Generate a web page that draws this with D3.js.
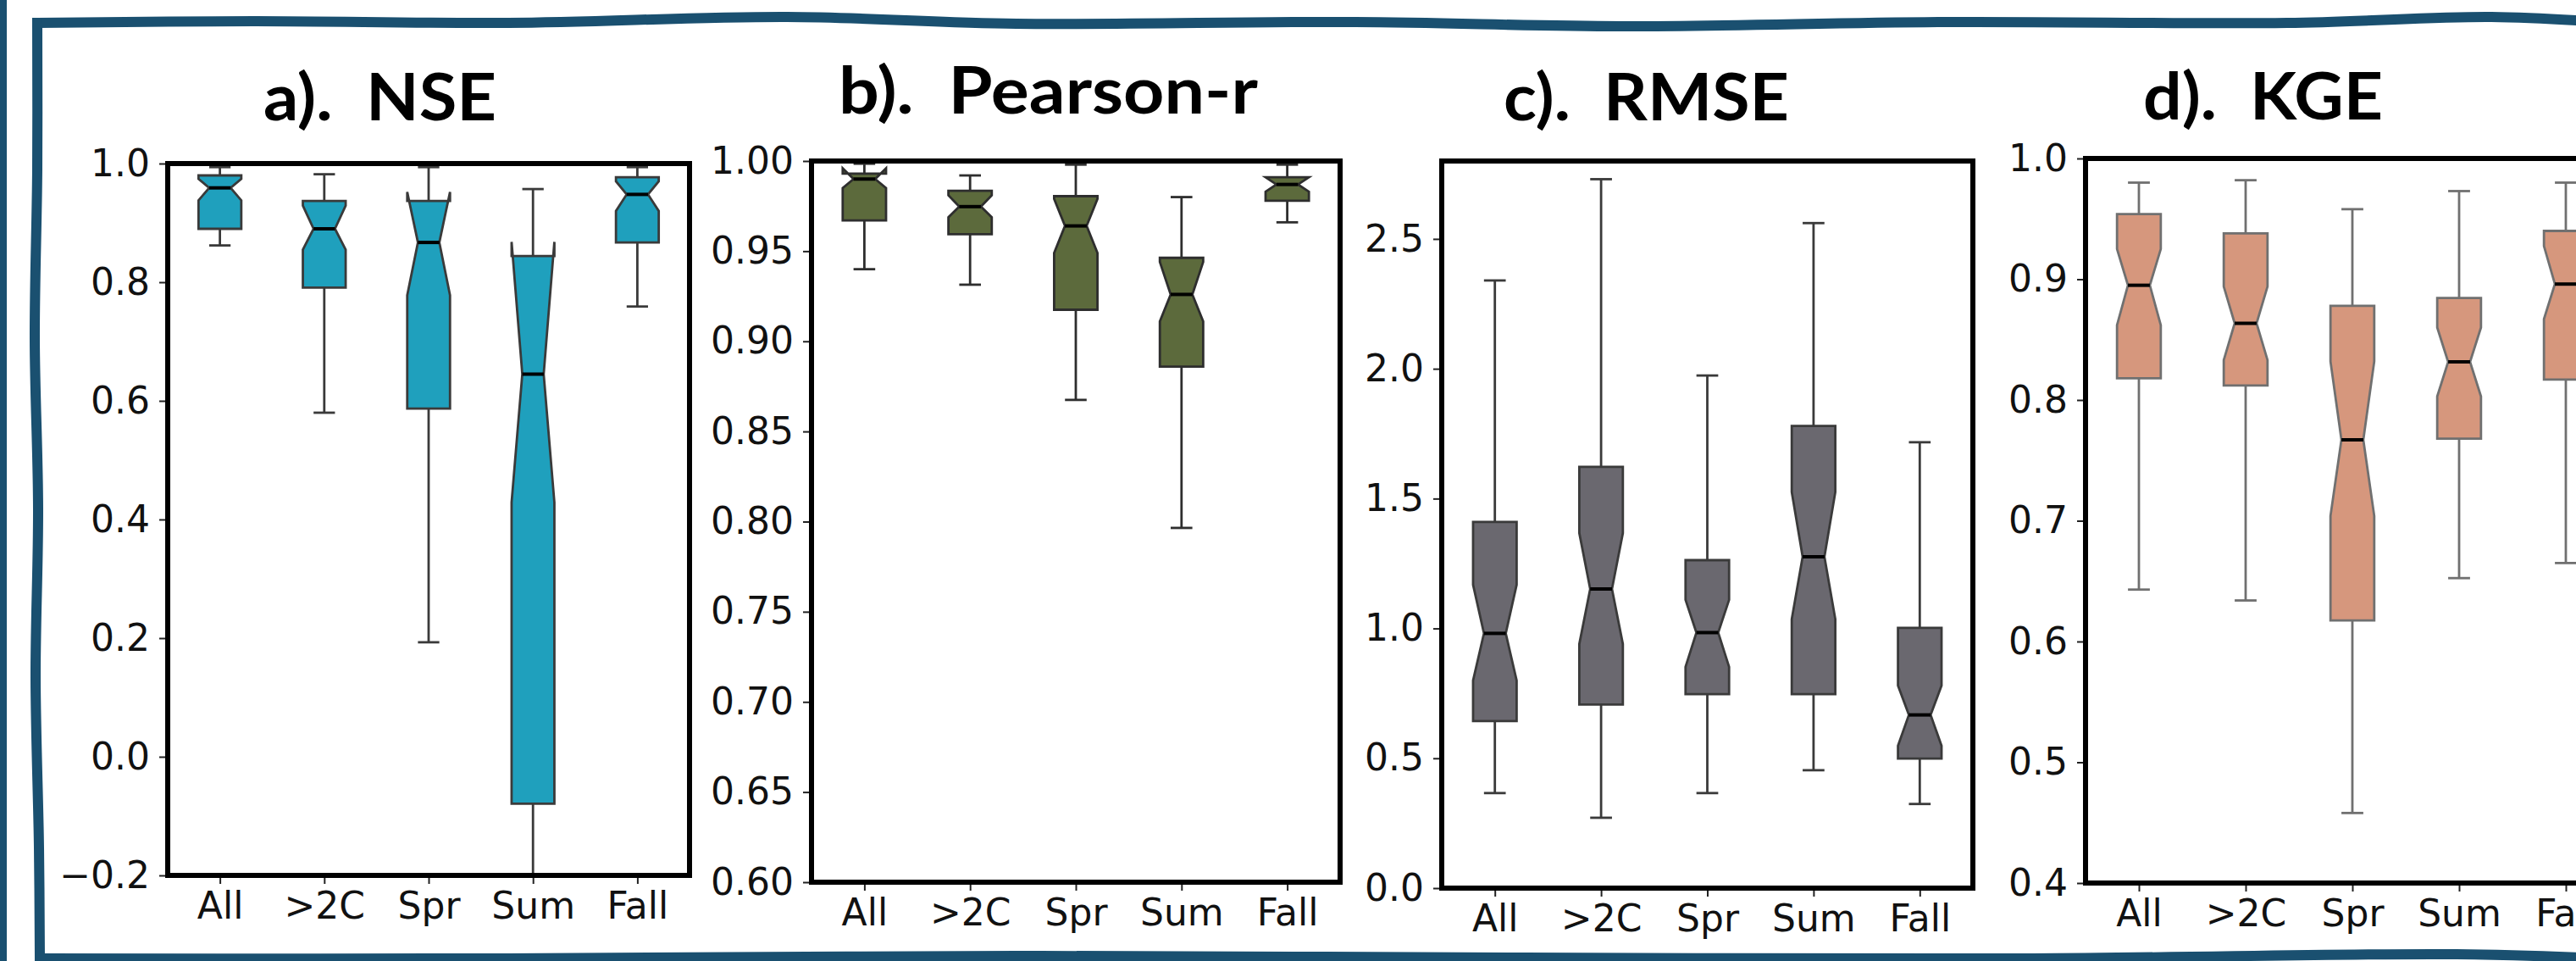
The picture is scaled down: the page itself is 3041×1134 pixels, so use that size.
<!DOCTYPE html>
<html>
<head>
<meta charset="utf-8">
<script src="https://cdn.jsdelivr.net/npm/d3@7"></script>
<style>
  html, body { margin: 0; padding: 0; background: #fff; }
  svg { display: block; }
  .tick text { font-family: "DejaVu Sans", sans-serif; font-size: 44px; fill: #111; }
  .tick line { stroke: #222; stroke-width: 2; }
  .title { font-family: Lato, "Open Sans", sans-serif; font-weight: 700; font-size: 76px; fill: #000; white-space: pre; }
</style>
</head>
<body>
<div id="chart"></div>
<script>
// categories on every x axis
const categories = ["All", ">2C", "Spr", "Sum", "Fall"];

// a) NSE
const nseWhiskerHi = [0.994, 0.982, 0.994, 0.957, 0.994];
const nseQ3        = [0.980, 0.937, 0.937, 0.844, 0.977];
const nseNotchHi   = [0.974, 0.929, 0.952, 0.868, 0.970];
const nseMedian    = [0.959, 0.890, 0.867, 0.645, 0.948];
const nseNotchLo   = [0.938, 0.855, 0.778, 0.429, 0.920];
const nseQ1        = [0.890, 0.791, 0.587, -0.079, 0.867];
const nseWhiskerLo = [0.862, 0.580, 0.193, -0.320, 0.759];

// b) Pearson-r
const rWhiskerHi = [0.9985, 0.992, 0.998, 0.980, 0.998];
const rQ3        = [0.993, 0.9835, 0.9805, 0.9463, 0.991];
const rNotchHi   = [0.996, 0.981, 0.979, 0.944, 0.991];
const rMedian    = [0.990, 0.9747, 0.964, 0.926, 0.987];
const rNotchLo   = [0.985, 0.9688, 0.949, 0.911, 0.983];
const rQ1        = [0.967, 0.9594, 0.9175, 0.886, 0.978];
const rWhiskerLo = [0.940, 0.9314, 0.8675, 0.7965, 0.966];

// c) RMSE
const rmseWhiskerHi = [2.340, 2.730, 1.974, 2.561, 1.717];
const rmseQ3        = [1.410, 1.622, 1.263, 1.780, 1.002];
const rmseNotchHi   = [1.168, 1.367, 1.110, 1.525, 0.780];
const rmseMedian    = [0.981, 1.152, 0.984, 1.276, 0.667];
const rmseNotchLo   = [0.800, 0.940, 0.852, 1.036, 0.548];
const rmseQ1        = [0.643, 0.707, 0.747, 0.747, 0.499];
const rmseWhiskerLo = [0.366, 0.271, 0.366, 0.454, 0.324];

// d) KGE
const kgeWhiskerHi = [0.980, 0.982, 0.958, 0.973, 0.980];
const kgeQ3        = [0.954, 0.938, 0.878, 0.8845, 0.940];
const kgeNotchHi   = [0.925, 0.894, 0.832, 0.860, 0.9275];
const kgeMedian    = [0.895, 0.8635, 0.767, 0.8316, 0.896];
const kgeNotchLo   = [0.862, 0.833, 0.704, 0.803, 0.867];
const kgeQ1        = [0.818, 0.812, 0.6175, 0.768, 0.817];
const kgeWhiskerLo = [0.643, 0.634, 0.458, 0.6525, 0.665];

// y ticks
const nseTicks  = [-0.2, 0.0, 0.2, 0.4, 0.6, 0.8, 1.0];
const rTicks    = [0.60, 0.65, 0.70, 0.75, 0.80, 0.85, 0.90, 0.95, 1.00];
const rmseTicks = [0.0, 0.5, 1.0, 1.5, 2.0, 2.5];
const kgeTicks  = [0.4, 0.5, 0.6, 0.7, 0.8, 0.9, 1.0];

const titles = ["a).  NSE", "b).  Pearson-r", "c).  RMSE", "d).  KGE"];

function rows(lo, q1, nlo, med, nhi, q3, hi) {
  return categories.map((c, i) => ({
    cat: c, lo: lo[i], q1: q1[i], nlo: nlo[i], med: med[i], nhi: nhi[i], q3: q3[i], hi: hi[i]
  }));
}

const panels = [
  { title: titles[0], data: rows(nseWhiskerLo, nseQ1, nseNotchLo, nseMedian, nseNotchHi, nseQ3, nseWhiskerHi),
    domain: [-0.2, 1.0], ticks: nseTicks, fmt: ".1f", fill: "#1fa0bd", edge: "#3a3a3a",
    box: [198, 814, 193, 1033], tx: 311, ty: 142, tw: 275 },
  { title: titles[1], data: rows(rWhiskerLo, rQ1, rNotchLo, rMedian, rNotchHi, rQ3, rWhiskerHi),
    domain: [0.60, 1.00], ticks: rTicks, fmt: ".2f", fill: "#5c6a3c", edge: "#2e2e2e",
    box: [958, 1582, 190, 1041], tx: 990, ty: 134, tw: 495 },
  { title: titles[2], data: rows(rmseWhiskerLo, rmseQ1, rmseNotchLo, rmseMedian, rmseNotchHi, rmseQ3, rmseWhiskerHi),
    domain: [0.0, 2.8], ticks: rmseTicks, fmt: ".1f", fill: "#6a686f", edge: "#3a3a3a",
    box: [1702, 2329, 190, 1048], tx: 1775, ty: 142, tw: 337 },
  { title: titles[3], data: rows(kgeWhiskerLo, kgeQ1, kgeNotchLo, kgeMedian, kgeNotchHi, kgeQ3, kgeWhiskerHi),
    domain: [0.4, 1.0], ticks: kgeTicks, fmt: ".1f", fill: "#d6977d", edge: "#707070",
    box: [2462, 3092, 187, 1042], tx: 2530, ty: 141, tw: 283 }
];

const W = 3041, H = 1134;
const frameColor = "#1a5070";

const svg = d3.select("#chart").append("svg")
    .attr("width", W)
    .attr("height", H);

svg.append("rect").attr("width", W).attr("height", H).attr("fill", "#fff");

// frame around the figure (hand drawn look)
svg.append("rect")
    .attr("x", 0).attr("y", 0).attr("width", 8).attr("height", H)
    .attr("fill", frameColor);

const frameSides = [
  // top
  [[44, 27], [300, 25], [600, 27], [929, 20], [1200, 28], [1600, 26], [1913, 31], [2300, 26], [2700, 27], [2941, 20], [3070, 26]],
  // left
  [[44, 27], [44, 200], [41, 400], [45, 600], [42, 800], [46, 1000], [47, 1131]],
  // bottom
  [[47, 1131], [600, 1131], [1200, 1128], [1800, 1130], [2400, 1131], [2900, 1126], [3070, 1131]]
];
svg.selectAll("path.frame").data(frameSides).enter().append("path")
    .attr("class", "frame")
    .attr("d", d3.line().curve(d3.curveCatmullRom))
    .attr("fill", "none")
    .attr("stroke", frameColor)
    .attr("stroke-width", 12)
    .attr("stroke-linecap", "square");

panels.forEach((p, pi) => {
  const [left, right, top, bottom] = p.box;
  const x = d3.scalePoint().domain(categories).range([left, right]).padding(0.5);
  const y = d3.scaleLinear().domain(p.domain).range([bottom, top]);
  const hw = x.step() * 0.41 / 2;

  const g = svg.append("g");

  g.append("clipPath").attr("id", "clip" + pi)
    .append("rect").attr("x", left).attr("y", top)
    .attr("width", right - left).attr("height", bottom - top);

  const plot = g.append("g").attr("clip-path", `url(#clip${pi})`);

  const box = plot.selectAll("g.box").data(p.data).enter().append("g").attr("class", "box");

  // whiskers
  box.append("line")
      .attr("x1", d => x(d.cat)).attr("x2", d => x(d.cat))
      .attr("y1", d => y(d.q1)).attr("y2", d => y(d.lo))
      .attr("stroke", p.edge).attr("stroke-width", 2.8);
  box.append("line")
      .attr("x1", d => x(d.cat)).attr("x2", d => x(d.cat))
      .attr("y1", d => y(d.q3)).attr("y2", d => y(d.hi))
      .attr("stroke", p.edge).attr("stroke-width", 2.8);
  // caps
  ["lo", "hi"].forEach(k => {
    box.append("line")
        .attr("x1", d => x(d.cat) - hw / 2).attr("x2", d => x(d.cat) + hw / 2)
        .attr("y1", d => y(d[k])).attr("y2", d => y(d[k]))
        .attr("stroke", p.edge).attr("stroke-width", 2.8);
  });

  // notched box
  box.append("path")
      .attr("d", d => {
        const c = x(d.cat);
        return d3.line()([
          [c - hw, y(d.q1)], [c - hw, y(d.nlo)], [c - hw / 2, y(d.med)], [c - hw, y(d.nhi)], [c - hw, y(d.q3)],
          [c + hw, y(d.q3)], [c + hw, y(d.nhi)], [c + hw / 2, y(d.med)], [c + hw, y(d.nlo)], [c + hw, y(d.q1)]
        ]) + "Z";
      })
      .attr("fill", p.fill)
      .attr("stroke", p.edge)
      .attr("stroke-width", 2.8)
      .attr("stroke-linejoin", "miter");

  // median
  box.append("line")
      .attr("x1", d => x(d.cat) - hw / 2).attr("x2", d => x(d.cat) + hw / 2)
      .attr("y1", d => y(d.med)).attr("y2", d => y(d.med))
      .attr("stroke", "#000").attr("stroke-width", 4);

  // axes
  g.append("g")
      .attr("transform", `translate(0,${bottom})`)
      .call(d3.axisBottom(x).tickSize(10).tickPadding(10))
      .call(a => a.select(".domain").remove());

  g.append("g")
      .attr("transform", `translate(${left},0)`)
      .call(d3.axisLeft(y).tickValues(p.ticks).tickFormat(d3.format(p.fmt)).tickSize(10).tickPadding(11))
      .call(a => a.select(".domain").remove());

  // spines
  g.append("rect")
      .attr("x", left).attr("y", top)
      .attr("width", right - left).attr("height", bottom - top)
      .attr("fill", "none").attr("stroke", "#000").attr("stroke-width", 6);

  // title
  g.append("text")
      .attr("class", "title")
      .attr("x", p.tx).attr("y", p.ty)
      .attr("textLength", p.tw)
      .attr("lengthAdjust", "spacingAndGlyphs")
      .text(p.title);
});
</script>
</body>
</html>
